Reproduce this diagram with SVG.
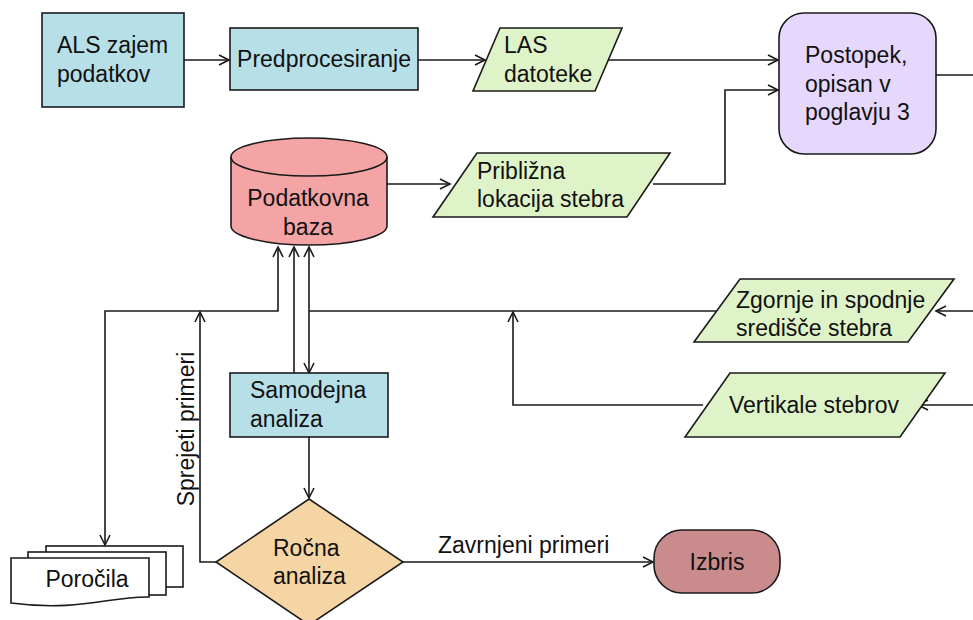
<svg xmlns="http://www.w3.org/2000/svg" width="973" height="620" viewBox="0 0 973 620">
<style>
.n{stroke:#1a1a1a;stroke-width:1.6}
.t{font-family:"Liberation Sans",Arial,sans-serif;font-size:23px;fill:#111}
.c{text-anchor:middle}
.e{fill:none;stroke:#1a1a1a;stroke-width:1.6}
</style>
<defs>
<marker id="a" markerUnits="userSpaceOnUse" markerWidth="14" markerHeight="14" refX="11" refY="6" orient="auto-start-reverse" viewBox="0 0 14 12">
<path d="M1,1 L11,6 L1,11" fill="none" stroke="#1a1a1a" stroke-width="1.6"/>
</marker>
</defs>
<rect width="973" height="620" fill="#fff"/>
<g id="connectors">
<path class="e" d="M184,60 H229" marker-end="url(#a)"/>
<path class="e" d="M418,60 H485" marker-end="url(#a)"/>
<path class="e" d="M608,60 H778" marker-end="url(#a)"/>
<path class="e" d="M653,184 H725 V90 H778" marker-end="url(#a)"/>
<path class="e" d="M387,184 H450" marker-end="url(#a)"/>
<path class="e" d="M936,75 H973"/>
<path class="e" d="M973,311 H936" marker-end="url(#a)"/>
<path class="e" d="M973,405 H918" marker-end="url(#a)"/>
<path class="e" d="M717,311 H309"/>
<path class="e" d="M309,373 V247" marker-start="url(#a)" marker-end="url(#a)"/>
<path class="e" d="M294,373 V247" marker-end="url(#a)"/>
<path class="e" d="M105,545 V311 H278 V247" marker-start="url(#a)" marker-end="url(#a)"/>
<path class="e" d="M216,562 H200 V312" marker-end="url(#a)"/>
<path class="e" d="M703,405 H513 V312" marker-end="url(#a)"/>
<path class="e" d="M309,437 V498" marker-end="url(#a)"/>
<path class="e" d="M403,562 H653" marker-end="url(#a)"/>
<text class="t" x="438" y="553">Zavrnjeni primeri</text>
<text class="t c" transform="translate(194,429) rotate(-90)">Sprejeti primeri</text>
</g>
<g id="als">
<rect class="n" x="42" y="13" width="142" height="94" fill="#b7dfe8"/>
<text class="t" x="57" y="53">ALS zajem</text>
<text class="t" x="57" y="82">podatkov</text>
</g>
<g id="predprocesiranje">
<rect class="n" x="230" y="28" width="188" height="62" fill="#b7dfe8"/>
<text class="t c" x="324" y="67">Predprocesiranje</text>
</g>
<g id="las">
<polygon class="n" points="500,28 622,28 595,91 473,91" fill="#dff3c8"/>
<text class="t" x="504" y="53">LAS</text>
<text class="t" x="504" y="82">datoteke</text>
</g>
<g id="postopek">
<rect class="n" x="779" y="13" width="157" height="141" rx="25" fill="#e5d8fc"/>
<text class="t" x="805" y="63">Postopek,</text>
<text class="t" x="805" y="92">opisan v</text>
<text class="t" x="805" y="120">poglavju 3</text>
</g>
<g id="baza">
<path class="n" d="M231,157 V226 A78,19 0 0 0 387,226 V157 A78,19 0 0 0 231,157 Z" fill="#f4a4a4"/>
<path class="n" d="M231,157 A78,19 0 0 0 387,157" fill="none"/>
<text class="t c" x="308" y="206">Podatkovna</text>
<text class="t c" x="308" y="235">baza</text>
</g>
<g id="priblizna">
<polygon class="n" points="477,153 670,153 627,217 433,217" fill="#dff3c8"/>
<text class="t" x="477" y="179">Približna</text>
<text class="t" x="477" y="207">lokacija stebra</text>
</g>
<g id="zgornje">
<polygon class="n" points="740,279 954,279 908,342 694,342" fill="#dff3c8"/>
<text class="t" x="736" y="308">Zgornje in spodnje</text>
<text class="t" x="736" y="336">središče stebra</text>
</g>
<g id="vertikale">
<polygon class="n" points="730,373 945,373 900,437 685,437" fill="#dff3c8"/>
<text class="t" x="729" y="413">Vertikale stebrov</text>
</g>
<g id="samodejna">
<rect class="n" x="230" y="373" width="158" height="64" fill="#b7dfe8"/>
<text class="t" x="250" y="398">Samodejna</text>
<text class="t" x="250" y="427">analiza</text>
</g>
<g id="rocna">
<polygon class="n" points="309,499 403,562 309,625 216,562" fill="#f5d5a3"/>
<text class="t" x="273" y="556">Ročna</text>
<text class="t" x="273" y="584">analiza</text>
</g>
<g id="izbris">
<rect class="n" x="654" y="530" width="126" height="63" rx="28" fill="#c98b8b"/>
<text class="t c" x="717" y="570">Izbris</text>
</g>
<g id="porocila">
<rect class="n" x="46" y="546" width="137" height="41" fill="#fff"/>
<rect class="n" x="28" y="552" width="138" height="43" fill="#fff"/>
<path class="n" d="M11,558 H149 V597 C110,596 80,612 11,603 Z" fill="#fff"/>
<text class="t c" x="87" y="587">Poročila</text>
</g>
</svg>
